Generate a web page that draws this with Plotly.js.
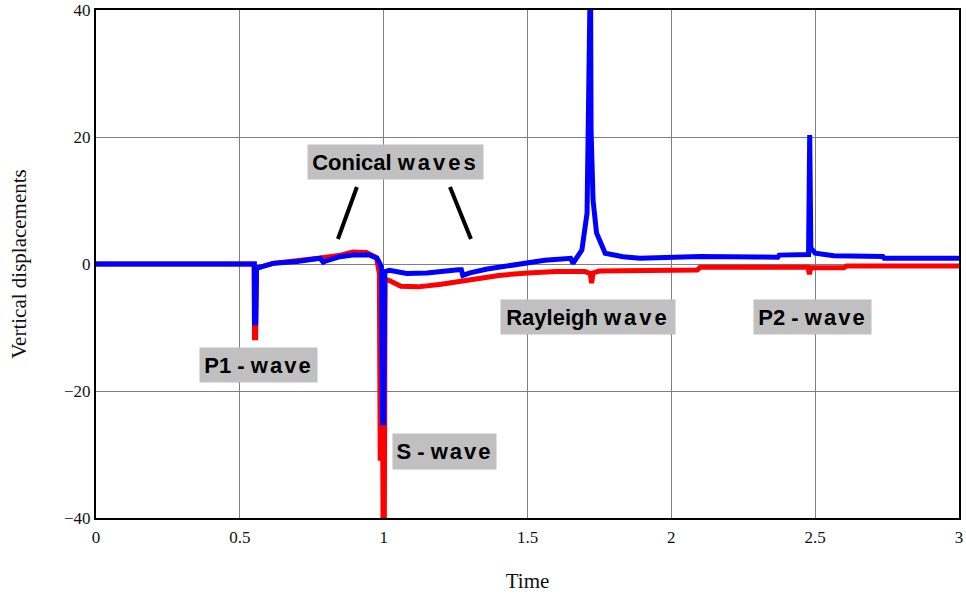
<!DOCTYPE html>
<html>
<head>
<meta charset="utf-8">
<script src="https://cdn.plot.ly/plotly-3.0.1.min.js"></script>
<style>
  html, body { margin: 0; padding: 0; background: #fff; }
  #chart { width: 966px; height: 596px; }
</style>
</head>
<body>
<div id="chart"></div>
<script>
// Vertical surface displacement against time for two receiver responses.
const timeBlue = [0, 0.55, 0.551, 0.555, 0.558, 0.563, 0.615, 0.699, 0.779, 0.79, 0.80, 0.848, 0.893, 0.952, 0.977,
  0.992, 0.996, 1.000, 1.004, 1.02, 1.08, 1.15, 1.26, 1.27, 1.275, 1.30, 1.36, 1.44, 1.50, 1.56, 1.62, 1.65,
  1.658, 1.689, 1.707, 1.711, 1.713, 1.719, 1.721, 1.728, 1.740, 1.770, 1.832, 1.891, 1.95, 2.03, 2.10,
  2.30, 2.37, 2.375, 2.477, 2.481, 2.485, 2.50, 2.565, 2.735, 2.74, 3.0];
const dispBlue = [0, 0, -9.3, -9.3, -0.6, -0.6, 0.1, 0.4, 0.9, 0.3, 0.5, 1.15, 1.4, 1.4, 0.9,
  -0.4, -25, -25, -1.2, -1.0, -1.5, -1.4, -0.9, -0.9, -1.8, -1.4, -0.8, -0.2, 0.3, 0.6, 0.8, 0.9,
  0.1, 2.2, 8, 21, 48, 48, 21, 10, 4.9, 1.7, 1.15, 0.9, 1.0, 1.2, 1.2,
  1.1, 1.05, 1.4, 1.5, 20.3, 2.5, 1.7, 1.3, 1.2, 0.9, 0.9];

const timeRed = [0, 0.55, 0.551, 0.555, 0.558, 0.563, 0.615, 0.70, 0.78, 0.85, 0.893, 0.94, 0.975,
  0.985, 0.988, 0.990, 0.995, 0.998, 1.002, 1.005, 1.02, 1.06, 1.12, 1.2, 1.30, 1.4, 1.5, 1.6, 1.70,
  1.718, 1.723, 1.728, 1.75, 1.85, 2.09, 2.10, 2.475, 2.480, 2.485, 2.60, 2.61, 3.0];
const dispRed = [0, 0, -11.6, -11.6, -0.6, -0.6, 0.1, 0.45, 0.95, 1.4, 1.9, 1.8, 1.0,
  -1.5, -31, -3, -3, -45, -45, -2.4, -2.6, -3.5, -3.6, -3.2, -2.4, -1.8, -1.4, -1.2, -1.2,
  -1.5, -3.0, -1.4, -1.1, -1.0, -0.95, -0.5, -0.5, -1.6, -0.6, -0.6, -0.3, -0.3];

const xTicks = [0, 0.5, 1, 1.5, 2, 2.5, 3];
const yTicks = [-40, -20, 0, 20, 40];

// Wave-phase labels: text, time, displacement, box width, box height
const labelText = [
  'Conical <span style="letter-spacing:3px">waves</span>',
  'P1 - <span style="letter-spacing:2px">wave</span>',
  'S - <span style="letter-spacing:2px">wave</span>',
  'Rayleigh <span style="letter-spacing:3px">wave</span>',
  'P2 - <span style="letter-spacing:2px">wave</span>'
];
const labelTime = [1.0411, 0.5648, 1.2113, 1.7101, 2.4905];
const labelDisp = [16.06, -15.91, -29.53, -8.35, -8.35];
const labelW = [175, 117, 103, 174, 117];
const labelH = [34, 34, 35, 34, 34];

const traces = [
  { x: timeRed, y: dispRed, type: 'scatter', mode: 'lines',
    line: { color: '#ff0000', width: 5 }, hoverinfo: 'skip' },
  { x: timeBlue, y: dispBlue, type: 'scatter', mode: 'lines',
    line: { color: '#0000ff', width: 5 }, hoverinfo: 'skip' }
];

const annotations = labelText.map((t, i) => ({
  x: labelTime[i], y: labelDisp[i], xref: 'x', yref: 'y',
  text: '<b>' + t + '</b>', showarrow: false,
  xanchor: 'center', yanchor: 'middle',
  width: labelW[i], height: labelH[i], borderpad: 0,
  bgcolor: '#c0c0c0', align: 'center', valign: 'middle',
  font: { family: 'Liberation Sans, Arial, sans-serif', size: 22, color: '#000' }
}));

// Pointer strokes beneath the "Conical waves" label
const shapes = [
  { type: 'line', xref: 'x', yref: 'y', x0: 0.907, y0: 12.13, x1: 0.841, y1: 3.94,
    line: { color: '#000', width: 4 } },
  { type: 'line', xref: 'x', yref: 'y', x0: 1.2305, y0: 12.13, x1: 1.3034, y1: 3.94,
    line: { color: '#000', width: 4 } }
];

const serif = 'Liberation Serif, Times New Roman, serif';

const layout = {
  width: 966, height: 596,
  margin: { l: 96, r: 7, t: 10, b: 78 },
  paper_bgcolor: '#fff', plot_bgcolor: '#fff',
  showlegend: false,
  xaxis: {
    range: [0, 3], tickvals: xTicks, ticks: '', ticklabelstandoff: 3,
    showgrid: true, gridcolor: '#7f7f7f', gridwidth: 1, zeroline: false,
    showline: true, mirror: true, linecolor: '#000', linewidth: 2,
    tickfont: { family: serif, size: 17, color: '#111' },
    title: { text: 'Time', font: { family: serif, size: 21, color: '#111' }, standoff: 27 }
  },
  yaxis: {
    range: [-40, 40], tickvals: yTicks, ticks: '',
    showgrid: true, gridcolor: '#7f7f7f', gridwidth: 1, zeroline: false,
    showline: true, mirror: true, linecolor: '#000', linewidth: 2,
    tickfont: { family: serif, size: 17, color: '#111' },
    title: { text: 'Vertical displacements', font: { family: serif, size: 21, color: '#111' }, standoff: 32 }
  },
  annotations: annotations,
  shapes: shapes
};

Plotly.newPlot('chart', traces, layout, { staticPlot: true, displayModeBar: false });
</script>
</body>
</html>
